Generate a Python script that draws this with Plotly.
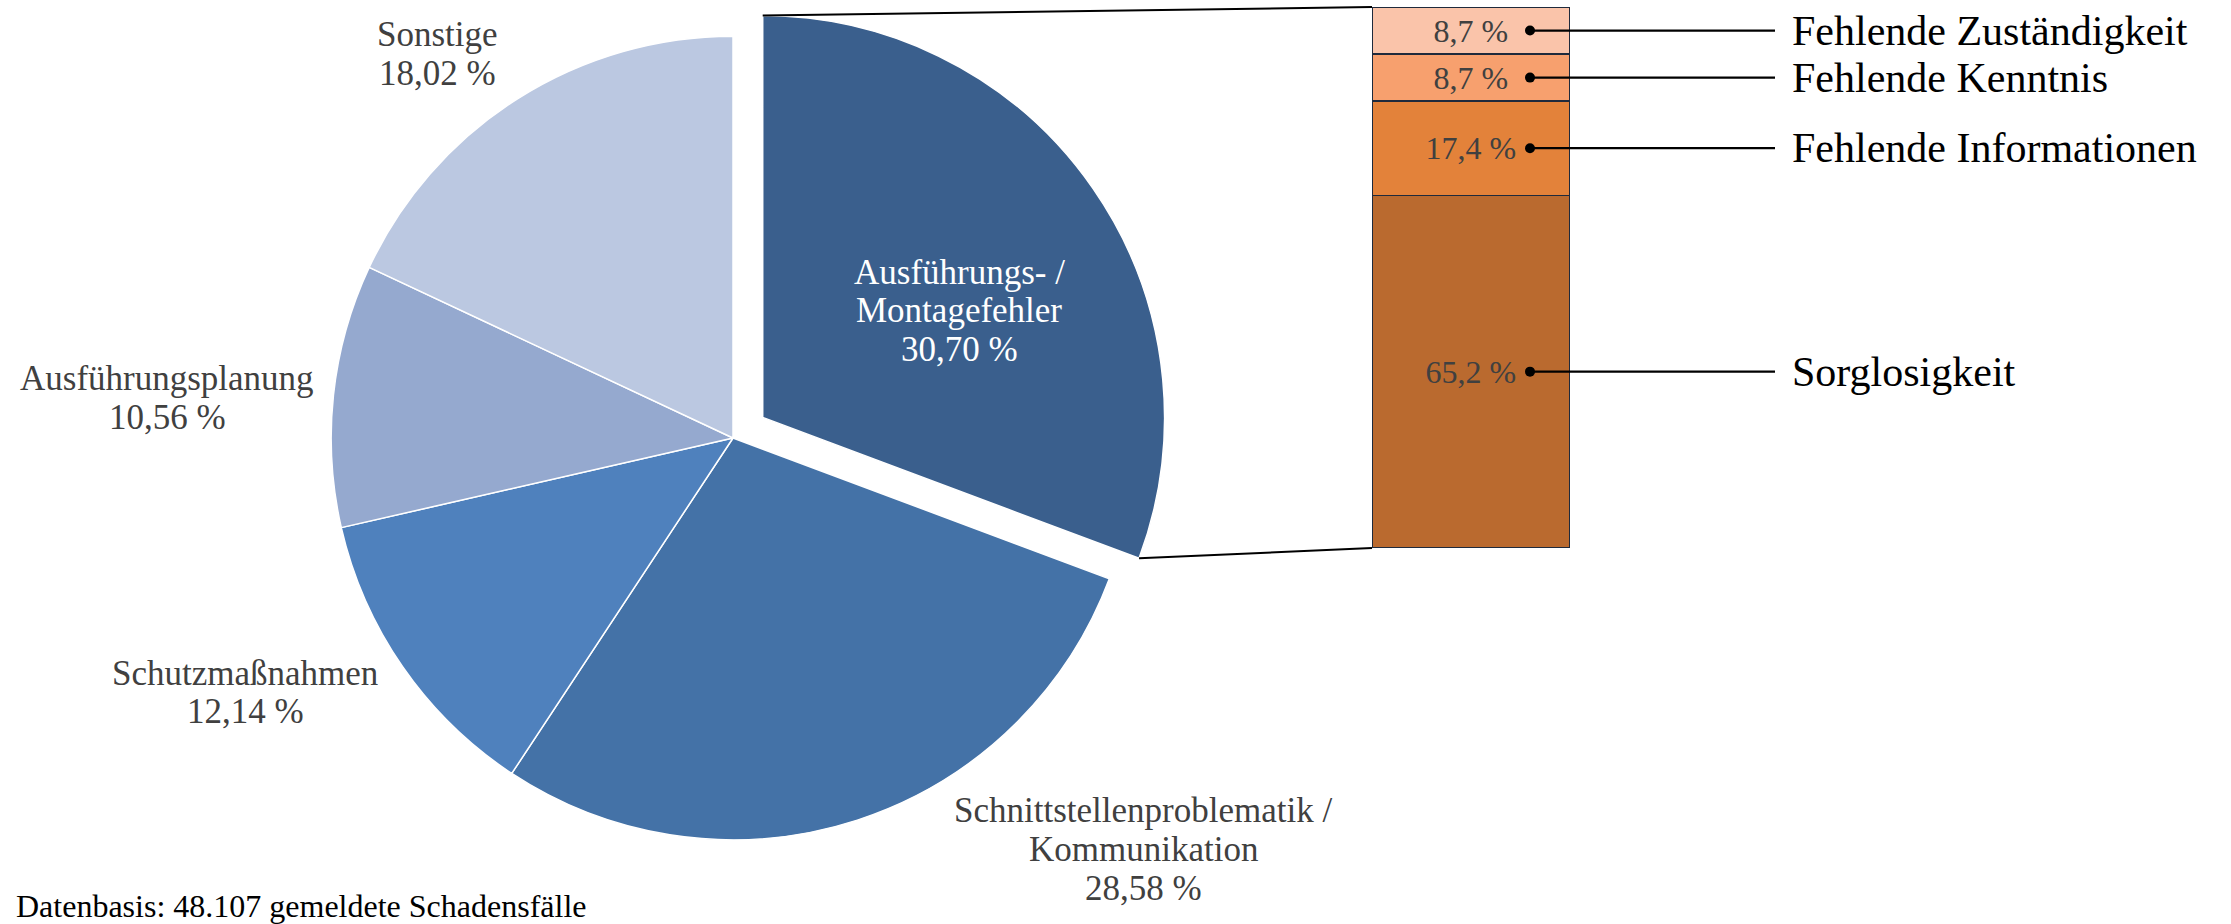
import math
import plotly.graph_objects as go

W, H = 2231, 924

# ---------------- data ----------------
pie_categories = ["Ausführungs- /<br>Montagefehler",
                  "Schnittstellenproblematik /<br>Kommunikation",
                  "Schutzmaßnahmen",
                  "Ausführungsplanung",
                  "Sonstige"]
pie_values = [30.70, 28.58, 12.14, 10.56, 18.02]

bar_categories = ["Sorglosigkeit", "Fehlende Informationen",
                  "Fehlende Kenntnis", "Fehlende Zuständigkeit"]
bar_values = [65.2, 17.4, 8.7, 8.7]

note_text = "Datenbasis: 48.107 gemeldete Schadensfälle"

# ---------------- styles / layout ----------------
pie_colors = ["#3A5F8D", "#4472A7", "#4F81BD", "#95A9CF", "#BBC8E1"]
pie_label_colors = ["#FFFFFF", "#404040", "#404040", "#404040", "#404040"]
bar_colors = ["#BA6A2F", "#E3823A", "#F7A06E", "#FAC4AA"]
FONT = "Liberation Serif"

PULL = 0.09
CX, CY = 733, 438            # pie centre in px
# label block centres in px (x, y)
pie_label_pos = [(959, 311), (1143, 849.5), (245, 692.5), (167, 398), (437, 54)]
LINE_H = 38.6
PIE_FS = 35

BX0, BW = 1372, 197.5        # bar left edge and width in px
BAR_TOP, BAR_BOT = 7, 548
DOT_PX, LINE_END_PX, LABEL_PX = 1530, 1775, 1790


def px2x(px):
    return px / W


def px2y(py):
    return 1 - py / H


def bar_x(px):
    return -0.5 + (px - BX0) / BW


fig = go.Figure()

# ---------------- pie ----------------
half = CY
fig.add_trace(go.Pie(
    labels=[c.replace("<br>", " ") for c in pie_categories],
    values=pie_values,
    sort=False,
    direction="clockwise",
    rotation=0,
    pull=[PULL] + [0] * (len(pie_values) - 1),
    marker=dict(colors=pie_colors, line=dict(color="white", width=1.5)),
    textinfo="none",
    hoverinfo="label+percent",
    domain=dict(x=[px2x(CX - half - 20), px2x(CX + half + 20)],
                y=[px2y(2 * CY), 1]),
    showlegend=False,
))

# pie labels
for cat, val, (lx, ly), col in zip(pie_categories, pie_values, pie_label_pos, pie_label_colors):
    lines = cat.split("<br>") + [f"{val:.2f}".replace(".", ",") + " %"]
    n = len(lines)
    for i, t in enumerate(lines):
        yy = ly + (i - (n - 1) / 2) * LINE_H
        fig.add_annotation(x=px2x(lx), y=px2y(yy), xref="paper", yref="paper",
                           text=t, showarrow=False, xanchor="center", yanchor="middle",
                           font=dict(family=FONT, size=PIE_FS, color=col))

# ---------------- stacked bar ----------------
cum = 0
centers = []
for cat, val, col in zip(bar_categories, bar_values, bar_colors):
    fig.add_trace(go.Bar(
        x=[0], y=[val], width=1, name=cat,
        marker=dict(color=col, line=dict(color="#1F2A3C", width=1.5)),
        texttemplate="%{y:.1f} %", textposition="inside", insidetextanchor="middle",
        constraintext="none",
        textfont=dict(family=FONT, size=32, color="#404040"),
        xaxis="x", yaxis="y", showlegend=False, hoverinfo="name+y",
    ))
    centers.append(cum + val / 2)
    cum += val

lx, ly = [], []
for c in centers:
    lx += [bar_x(DOT_PX), bar_x(LINE_END_PX), None]
    ly += [c, c, None]
fig.add_trace(go.Scatter(x=lx, y=ly, mode="lines", line=dict(color="black", width=2.3),
                         hoverinfo="skip", showlegend=False, xaxis="x", yaxis="y"))
fig.add_trace(go.Scatter(x=[bar_x(DOT_PX)] * len(centers), y=centers, mode="markers",
                         marker=dict(color="black", size=10), hoverinfo="skip",
                         showlegend=False, xaxis="x", yaxis="y"))
for cat, c in zip(bar_categories, centers):
    fig.add_annotation(x=bar_x(LABEL_PX), y=c, xref="x", yref="y", text=cat,
                       showarrow=False, xanchor="left", yanchor="middle",
                       font=dict(family=FONT, size=42, color="black"))

# ---------------- connector lines (from pie geometry) ----------------
R = half / (1 + PULL)
d = PULL * R
total = sum(pie_values)
th1 = math.radians(pie_values[0] / total * 360)
thm = th1 / 2
vx = CX + d * math.sin(thm)
vy = CY - d * math.cos(thm)
top_pt = (vx, vy - R)
bot_pt = (vx + R * math.sin(th1), vy - R * math.cos(th1))
for (x0, y0), (x1, y1) in [(top_pt, (BX0, BAR_TOP)), (bot_pt, (BX0, BAR_BOT))]:
    fig.add_shape(type="line", xref="paper", yref="paper",
                  x0=px2x(x0), y0=px2y(y0), x1=px2x(x1), y1=px2y(y1),
                  line=dict(color="black", width=2))

# note
fig.add_annotation(x=px2x(14), y=px2y(906), xref="paper", yref="paper", text=note_text,
                   showarrow=False, xanchor="left", yanchor="middle",
                   font=dict(family=FONT, size=32, color="black"))

fig.update_layout(
    width=W, height=H,
    margin=dict(l=0, r=0, t=0, b=0),
    paper_bgcolor="white", plot_bgcolor="white",
    separators=",.",
    barmode="stack",
    xaxis=dict(domain=[px2x(BX0), 1], range=[-0.5, bar_x(W)], visible=False, fixedrange=True),
    yaxis=dict(domain=[px2y(BAR_BOT), px2y(BAR_TOP)], range=[0, 100], visible=False, fixedrange=True),
    font=dict(family=FONT),
)

fig.write_html("out.html",
               config={"displayModeBar": False},
               post_script="document.body.style.margin='0';document.body.style.overflow='hidden';")
